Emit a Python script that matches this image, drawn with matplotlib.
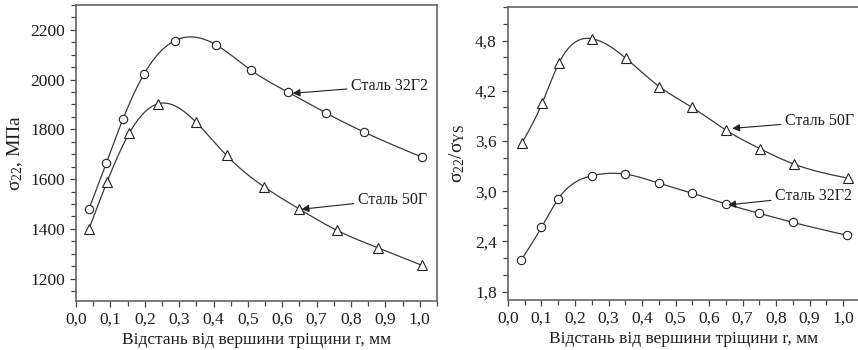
import numpy as np
import matplotlib.pyplot as plt
from matplotlib.ticker import MultipleLocator, FixedLocator, FixedFormatter

plt.rcParams['font.family'] = ['Liberation Serif', 'DejaVu Serif']
plt.rcParams['mathtext.fontset'] = 'custom'
plt.rcParams['mathtext.rm'] = 'Liberation Serif'
plt.rcParams['mathtext.it'] = 'Liberation Serif:italic'

# left panel: sigma_22, MPa
r_32g2_a = [0.038, 0.088, 0.137, 0.198, 0.288, 0.407, 0.508, 0.617, 0.728, 0.838, 1.007]
s_32g2_a = [1481, 1664, 1843, 2023, 2157, 2140, 2039, 1949, 1865, 1789, 1688]
r_50g_a = [0.038, 0.090, 0.155, 0.239, 0.349, 0.438, 0.548, 0.648, 0.759, 0.878, 1.007]
s_50g_a = [1401, 1588, 1785, 1903, 1829, 1695, 1568, 1481, 1394, 1324, 1253]

# right panel: sigma_22 / sigma_YS
r_50g_b = [0.041, 0.102, 0.152, 0.252, 0.351, 0.451, 0.550, 0.650, 0.753, 0.852, 1.013]
k_50g_b = [3.57, 4.05, 4.53, 4.82, 4.59, 4.25, 4.00, 3.73, 3.505, 3.325, 3.156]
r_32g2_b = [0.040, 0.100, 0.150, 0.250, 0.350, 0.450, 0.550, 0.650, 0.750, 0.850, 1.010]
k_32g2_b = [2.18, 2.567, 2.907, 3.184, 3.204, 3.096, 2.976, 2.847, 2.735, 2.627, 2.474]

x_ticks = [0.0, 0.1, 0.2, 0.3, 0.4, 0.5, 0.6, 0.7, 0.8, 0.9, 1.0]
x_labels = ['0,0', '0,1', '0,2', '0,3', '0,4', '0,5', '0,6', '0,7', '0,8', '0,9', '1,0']
y_ticks_a = [1200, 1400, 1600, 1800, 2000, 2200]
y_ticks_b = [1.8, 2.4, 3.0, 3.6, 4.2, 4.8]
y_labels_b = ['1,8', '2,4', '3,0', '3,6', '4,2', '4,8']

xlabel = 'Відстань від вершини тріщини r, мм'


def spline(x, y, n=300):
    # natural cubic spline, like the "spline" connect mode of the original plot
    x = np.asarray(x, float)
    y = np.asarray(y, float)
    m = len(x)
    h = np.diff(x)
    A = np.zeros((m, m))
    b = np.zeros(m)
    A[0, 0] = A[-1, -1] = 1
    for i in range(1, m - 1):
        A[i, i - 1] = h[i - 1]
        A[i, i] = 2 * (h[i - 1] + h[i])
        A[i, i + 1] = h[i]
        b[i] = 6 * ((y[i + 1] - y[i]) / h[i] - (y[i] - y[i - 1]) / h[i - 1])
    M = np.linalg.solve(A, b)
    xs = np.linspace(x[0], x[-1], n)
    idx = np.clip(np.searchsorted(x, xs) - 1, 0, m - 2)
    x0, x1 = x[idx], x[idx + 1]
    hh = x1 - x0
    t0, t1 = x1 - xs, xs - x0
    ys = (M[idx] * t0 ** 3 + M[idx + 1] * t1 ** 3) / (6 * hh) \
        + (y[idx] / hh - M[idx] * hh / 6) * t0 + (y[idx + 1] / hh - M[idx + 1] * hh / 6) * t1
    return xs, ys


line_c = '#3a3a3a'
text_c = '#1e1e1e'
spine_c = '#666666'


def draw(ax, x, y, marker, ms):
    xs, ys = spline(x, y)
    ax.plot(xs, ys, color=line_c, lw=0.9)
    ax.plot(x, y, linestyle='none', marker=marker, ms=ms, mfc='white',
            mec='#222222', mew=0.8)


def style(ax):
    for s in ax.spines.values():
        s.set_color(spine_c)
        s.set_linewidth(1.2)
    ax.tick_params(which='both', direction='out', color='#444444', width=0.9,
                   labelsize=12.5, labelcolor=text_c, top=False, right=False)
    ax.tick_params(which='major', length=4.5)
    ax.tick_params(which='minor', length=3.5)
    ax.xaxis.set_major_locator(FixedLocator(x_ticks))
    ax.xaxis.set_major_formatter(FixedFormatter(x_labels))
    ax.xaxis.set_minor_locator(MultipleLocator(0.05))
    ax.set_xlim(0, 1.05)
    ax.set_xlabel(xlabel, fontsize=12.5, color=text_c, labelpad=3)


def note(ax, text, tip, pos):
    ax.annotate(text, xy=tip, xytext=pos, ha='left', va='center', fontsize=11.5,
                color=text_c,
                arrowprops=dict(arrowstyle='-|>', color='#222222', lw=0.8,
                                mutation_scale=11, shrinkA=1, shrinkB=0))


fig = plt.figure(figsize=(8.58, 3.5), dpi=100)
ax1 = fig.add_axes([0.0886, 0.140, 0.4207, 0.8457])
ax2 = fig.add_axes([0.592, 0.1429, 0.4103, 0.837])

draw(ax1, r_32g2_a, s_32g2_a, 'o', 6)
draw(ax1, r_50g_a, s_50g_a, '^', 7.5)
style(ax1)
ax1.set_ylim(1110, 2300)
ax1.yaxis.set_major_locator(FixedLocator(y_ticks_a))
ax1.yaxis.set_minor_locator(MultipleLocator(50))
ax1.set_ylabel(r'$\mathregular{\sigma_{22}}$, МПа', fontsize=14, color=text_c, labelpad=4)
note(ax1, 'Сталь 32Г2', (0.63, 1945), (0.80, 1976))
note(ax1, 'Сталь 50Г', (0.656, 1479), (0.82, 1518))

draw(ax2, r_50g_b, k_50g_b, '^', 7.5)
draw(ax2, r_32g2_b, k_32g2_b, 'o', 6)
style(ax2)
ax2.set_ylim(1.7, 5.2)
ax2.yaxis.set_major_locator(FixedLocator(y_ticks_b))
ax2.yaxis.set_major_formatter(FixedFormatter(y_labels_b))
ax2.yaxis.set_minor_locator(MultipleLocator(0.2))
ax2.set_ylabel(r'$\mathregular{\sigma_{22}/\sigma_{YS}}$', fontsize=14, color=text_c, labelpad=6)
note(ax2, 'Сталь 50Г', (0.669, 3.75), (0.827, 3.834))
note(ax2, 'Сталь 32Г2', (0.657, 2.836), (0.797, 2.944))

fig.savefig('out.png', dpi=100)
